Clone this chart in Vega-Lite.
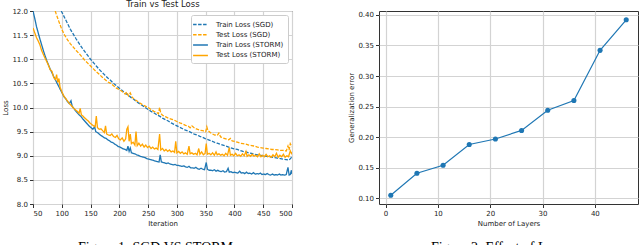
{
  "$schema": "https://vega.github.io/schema/vega-lite/v6.json",
  "background": "white",
  "padding": {"left": 1, "top": -2, "right": 0, "bottom": 0},
  "spacing": 54,
  "resolve": {"scale": {"color": "independent", "strokeDash": "independent"}, "legend": {"color": "independent", "strokeDash": "independent"}},
  "config": {
    "font": "DejaVu Sans",
    "view": {"stroke": "#333333", "strokeWidth": 1},
    "axis": {
      "labelFont": "DejaVu Sans", "labelFontSize": 7, "labelColor": "#222222",
      "titleFont": "DejaVu Sans", "titleFontSize": 7, "titleFontWeight": "normal", "titleColor": "#222222",
      "gridColor": "#d3d3d3", "gridWidth": 1.2, "tickColor": "#333333", "tickSize": 3.5,
      "domain": false, "labelPadding": 2, "titlePadding": 3
    },
    "legend": {
      "orient": "top-right", "offset": 4, "title": null,
      "fillColor": "white", "strokeColor": "#cccccc", "cornerRadius": 2, "padding": 4,
      "symbolType": "M-1.65,0H1.65", "symbolSize": 81, "symbolStrokeWidth": 1.5, "labelOffset": 10,
      "labelFont": "DejaVu Sans", "labelFontSize": 7, "labelColor": "#222222", "rowPadding": 1.3
    }
  },
  "hconcat": [
    {
      "title": {"text": "Figure 1: SGD VS STORM", "orient": "bottom", "font": "Liberation Serif", "fontSize": 14, "fontWeight": "normal", "color": "#000000", "offset": 14, "frame": "group", "anchor": "middle", "dx": -7},
      "width": 259,
      "height": 193,
      "data": {"values": [
            {"series": "Train Loss (SGD)", "iter": 96, "loss": 12.10}, {"series": "Train Loss (SGD)", "iter": 100, "loss": 11.98}, {"series": "Train Loss (SGD)", "iter": 105, "loss": 11.86}, {"series": "Train Loss (SGD)", "iter": 110, "loss": 11.74}, {"series": "Train Loss (SGD)", "iter": 115, "loss": 11.62}, {"series": "Train Loss (SGD)", "iter": 120, "loss": 11.52}, {"series": "Train Loss (SGD)", "iter": 125, "loss": 11.42}, {"series": "Train Loss (SGD)", "iter": 130, "loss": 11.33}, {"series": "Train Loss (SGD)", "iter": 135, "loss": 11.24}, {"series": "Train Loss (SGD)", "iter": 140, "loss": 11.16}, {"series": "Train Loss (SGD)", "iter": 145, "loss": 11.08}, {"series": "Train Loss (SGD)", "iter": 150, "loss": 11.00}, {"series": "Train Loss (SGD)", "iter": 155, "loss": 10.93}, {"series": "Train Loss (SGD)", "iter": 160, "loss": 10.86}, {"series": "Train Loss (SGD)", "iter": 165, "loss": 10.79}, {"series": "Train Loss (SGD)", "iter": 170, "loss": 10.73}, {"series": "Train Loss (SGD)", "iter": 175, "loss": 10.67}, {"series": "Train Loss (SGD)", "iter": 180, "loss": 10.61}, {"series": "Train Loss (SGD)", "iter": 185, "loss": 10.56}, {"series": "Train Loss (SGD)", "iter": 190, "loss": 10.50}, {"series": "Train Loss (SGD)", "iter": 195, "loss": 10.45}, {"series": "Train Loss (SGD)", "iter": 200, "loss": 10.40}, {"series": "Train Loss (SGD)", "iter": 205, "loss": 10.35}, {"series": "Train Loss (SGD)", "iter": 210, "loss": 10.30}, {"series": "Train Loss (SGD)", "iter": 215, "loss": 10.26}, {"series": "Train Loss (SGD)", "iter": 220, "loss": 10.21}, {"series": "Train Loss (SGD)", "iter": 225, "loss": 10.17}, {"series": "Train Loss (SGD)", "iter": 230, "loss": 10.12}, {"series": "Train Loss (SGD)", "iter": 235, "loss": 10.08}, {"series": "Train Loss (SGD)", "iter": 240, "loss": 10.04}, {"series": "Train Loss (SGD)", "iter": 245, "loss": 10.00}, {"series": "Train Loss (SGD)", "iter": 250, "loss": 9.96}, {"series": "Train Loss (SGD)", "iter": 255, "loss": 9.92}, {"series": "Train Loss (SGD)", "iter": 260, "loss": 9.89}, {"series": "Train Loss (SGD)", "iter": 265, "loss": 9.85}, {"series": "Train Loss (SGD)", "iter": 270, "loss": 9.82}, {"series": "Train Loss (SGD)", "iter": 275, "loss": 9.78}, {"series": "Train Loss (SGD)", "iter": 280, "loss": 9.75}, {"series": "Train Loss (SGD)", "iter": 285, "loss": 9.72}, {"series": "Train Loss (SGD)", "iter": 290, "loss": 9.68}, {"series": "Train Loss (SGD)", "iter": 295, "loss": 9.65}, {"series": "Train Loss (SGD)", "iter": 300, "loss": 9.62}, {"series": "Train Loss (SGD)", "iter": 305, "loss": 9.59}, {"series": "Train Loss (SGD)", "iter": 310, "loss": 9.56}, {"series": "Train Loss (SGD)", "iter": 315, "loss": 9.53}, {"series": "Train Loss (SGD)", "iter": 320, "loss": 9.51}, {"series": "Train Loss (SGD)", "iter": 325, "loss": 9.48}, {"series": "Train Loss (SGD)", "iter": 330, "loss": 9.45}, {"series": "Train Loss (SGD)", "iter": 335, "loss": 9.43}, {"series": "Train Loss (SGD)", "iter": 340, "loss": 9.40}, {"series": "Train Loss (SGD)", "iter": 345, "loss": 9.38}, {"series": "Train Loss (SGD)", "iter": 350, "loss": 9.35}, {"series": "Train Loss (SGD)", "iter": 355, "loss": 9.33}, {"series": "Train Loss (SGD)", "iter": 360, "loss": 9.31}, {"series": "Train Loss (SGD)", "iter": 365, "loss": 9.28}, {"series": "Train Loss (SGD)", "iter": 370, "loss": 9.26}, {"series": "Train Loss (SGD)", "iter": 375, "loss": 9.24}, {"series": "Train Loss (SGD)", "iter": 380, "loss": 9.22}, {"series": "Train Loss (SGD)", "iter": 385, "loss": 9.20}, {"series": "Train Loss (SGD)", "iter": 390, "loss": 9.18}, {"series": "Train Loss (SGD)", "iter": 395, "loss": 9.16}, {"series": "Train Loss (SGD)", "iter": 400, "loss": 9.14}, {"series": "Train Loss (SGD)", "iter": 405, "loss": 9.13}, {"series": "Train Loss (SGD)", "iter": 410, "loss": 9.11}, {"series": "Train Loss (SGD)", "iter": 415, "loss": 9.09}, {"series": "Train Loss (SGD)", "iter": 420, "loss": 9.08}, {"series": "Train Loss (SGD)", "iter": 425, "loss": 9.06}, {"series": "Train Loss (SGD)", "iter": 430, "loss": 9.05}, {"series": "Train Loss (SGD)", "iter": 435, "loss": 9.03}, {"series": "Train Loss (SGD)", "iter": 440, "loss": 9.02}, {"series": "Train Loss (SGD)", "iter": 445, "loss": 9.01}, {"series": "Train Loss (SGD)", "iter": 450, "loss": 9.00}, {"series": "Train Loss (SGD)", "iter": 455, "loss": 8.99}, {"series": "Train Loss (SGD)", "iter": 460, "loss": 8.98}, {"series": "Train Loss (SGD)", "iter": 465, "loss": 8.97}, {"series": "Train Loss (SGD)", "iter": 470, "loss": 8.96}, {"series": "Train Loss (SGD)", "iter": 475, "loss": 8.95}, {"series": "Train Loss (SGD)", "iter": 480, "loss": 8.94}, {"series": "Train Loss (SGD)", "iter": 485, "loss": 8.93}, {"series": "Train Loss (SGD)", "iter": 490, "loss": 8.92}, {"series": "Train Loss (SGD)", "iter": 495, "loss": 8.91}, {"series": "Train Loss (SGD)", "iter": 498, "loss": 8.95}, {"series": "Train Loss (SGD)", "iter": 500, "loss": 8.98},

            {"series": "Test Loss (SGD)", "iter": 86, "loss": 12.10}, {"series": "Test Loss (SGD)", "iter": 90, "loss": 11.95}, {"series": "Test Loss (SGD)", "iter": 95, "loss": 11.78}, {"series": "Test Loss (SGD)", "iter": 100, "loss": 11.62}, {"series": "Test Loss (SGD)", "iter": 105, "loss": 11.50}, {"series": "Test Loss (SGD)", "iter": 110, "loss": 11.40}, {"series": "Test Loss (SGD)", "iter": 115, "loss": 11.32}, {"series": "Test Loss (SGD)", "iter": 120, "loss": 11.25}, {"series": "Test Loss (SGD)", "iter": 125, "loss": 11.18}, {"series": "Test Loss (SGD)", "iter": 130, "loss": 11.12}, {"series": "Test Loss (SGD)", "iter": 135, "loss": 11.05}, {"series": "Test Loss (SGD)", "iter": 140, "loss": 10.98}, {"series": "Test Loss (SGD)", "iter": 145, "loss": 10.92}, {"series": "Test Loss (SGD)", "iter": 150, "loss": 10.86}, {"series": "Test Loss (SGD)", "iter": 155, "loss": 10.80}, {"series": "Test Loss (SGD)", "iter": 160, "loss": 10.74}, {"series": "Test Loss (SGD)", "iter": 165, "loss": 10.69}, {"series": "Test Loss (SGD)", "iter": 170, "loss": 10.63}, {"series": "Test Loss (SGD)", "iter": 175, "loss": 10.58}, {"series": "Test Loss (SGD)", "iter": 180, "loss": 10.53}, {"series": "Test Loss (SGD)", "iter": 185, "loss": 10.50}, {"series": "Test Loss (SGD)", "iter": 190, "loss": 10.45}, {"series": "Test Loss (SGD)", "iter": 195, "loss": 10.40}, {"series": "Test Loss (SGD)", "iter": 200, "loss": 10.37}, {"series": "Test Loss (SGD)", "iter": 205, "loss": 10.33}, {"series": "Test Loss (SGD)", "iter": 210, "loss": 10.28}, {"series": "Test Loss (SGD)", "iter": 213, "loss": 10.32}, {"series": "Test Loss (SGD)", "iter": 216, "loss": 10.24}, {"series": "Test Loss (SGD)", "iter": 219, "loss": 10.30}, {"series": "Test Loss (SGD)", "iter": 222, "loss": 10.22}, {"series": "Test Loss (SGD)", "iter": 225, "loss": 10.18}, {"series": "Test Loss (SGD)", "iter": 230, "loss": 10.14}, {"series": "Test Loss (SGD)", "iter": 235, "loss": 10.10}, {"series": "Test Loss (SGD)", "iter": 240, "loss": 10.06}, {"series": "Test Loss (SGD)", "iter": 245, "loss": 10.03}, {"series": "Test Loss (SGD)", "iter": 250, "loss": 10.00}, {"series": "Test Loss (SGD)", "iter": 255, "loss": 9.96}, {"series": "Test Loss (SGD)", "iter": 260, "loss": 9.92}, {"series": "Test Loss (SGD)", "iter": 265, "loss": 9.90}, {"series": "Test Loss (SGD)", "iter": 268, "loss": 9.87}, {"series": "Test Loss (SGD)", "iter": 270, "loss": 10.00}, {"series": "Test Loss (SGD)", "iter": 272, "loss": 9.88}, {"series": "Test Loss (SGD)", "iter": 275, "loss": 9.84}, {"series": "Test Loss (SGD)", "iter": 280, "loss": 9.81}, {"series": "Test Loss (SGD)", "iter": 285, "loss": 9.78}, {"series": "Test Loss (SGD)", "iter": 290, "loss": 9.76}, {"series": "Test Loss (SGD)", "iter": 295, "loss": 9.74}, {"series": "Test Loss (SGD)", "iter": 300, "loss": 9.71}, {"series": "Test Loss (SGD)", "iter": 305, "loss": 9.68}, {"series": "Test Loss (SGD)", "iter": 310, "loss": 9.66}, {"series": "Test Loss (SGD)", "iter": 315, "loss": 9.63}, {"series": "Test Loss (SGD)", "iter": 320, "loss": 9.61}, {"series": "Test Loss (SGD)", "iter": 323, "loss": 9.58}, {"series": "Test Loss (SGD)", "iter": 326, "loss": 9.62}, {"series": "Test Loss (SGD)", "iter": 330, "loss": 9.58}, {"series": "Test Loss (SGD)", "iter": 335, "loss": 9.55}, {"series": "Test Loss (SGD)", "iter": 340, "loss": 9.53}, {"series": "Test Loss (SGD)", "iter": 345, "loss": 9.52}, {"series": "Test Loss (SGD)", "iter": 350, "loss": 9.50}, {"series": "Test Loss (SGD)", "iter": 352, "loss": 9.60}, {"series": "Test Loss (SGD)", "iter": 354, "loss": 9.52}, {"series": "Test Loss (SGD)", "iter": 358, "loss": 9.48}, {"series": "Test Loss (SGD)", "iter": 362, "loss": 9.45}, {"series": "Test Loss (SGD)", "iter": 366, "loss": 9.43}, {"series": "Test Loss (SGD)", "iter": 370, "loss": 9.42}, {"series": "Test Loss (SGD)", "iter": 373, "loss": 9.47}, {"series": "Test Loss (SGD)", "iter": 376, "loss": 9.39}, {"series": "Test Loss (SGD)", "iter": 380, "loss": 9.37}, {"series": "Test Loss (SGD)", "iter": 385, "loss": 9.35}, {"series": "Test Loss (SGD)", "iter": 390, "loss": 9.33}, {"series": "Test Loss (SGD)", "iter": 393, "loss": 9.36}, {"series": "Test Loss (SGD)", "iter": 396, "loss": 9.31}, {"series": "Test Loss (SGD)", "iter": 400, "loss": 9.30}, {"series": "Test Loss (SGD)", "iter": 405, "loss": 9.28}, {"series": "Test Loss (SGD)", "iter": 410, "loss": 9.26}, {"series": "Test Loss (SGD)", "iter": 415, "loss": 9.25}, {"series": "Test Loss (SGD)", "iter": 420, "loss": 9.24}, {"series": "Test Loss (SGD)", "iter": 425, "loss": 9.22}, {"series": "Test Loss (SGD)", "iter": 430, "loss": 9.21}, {"series": "Test Loss (SGD)", "iter": 435, "loss": 9.20}, {"series": "Test Loss (SGD)", "iter": 440, "loss": 9.18}, {"series": "Test Loss (SGD)", "iter": 445, "loss": 9.17}, {"series": "Test Loss (SGD)", "iter": 450, "loss": 9.16}, {"series": "Test Loss (SGD)", "iter": 455, "loss": 9.15}, {"series": "Test Loss (SGD)", "iter": 460, "loss": 9.14}, {"series": "Test Loss (SGD)", "iter": 465, "loss": 9.13}, {"series": "Test Loss (SGD)", "iter": 470, "loss": 9.13}, {"series": "Test Loss (SGD)", "iter": 475, "loss": 9.12}, {"series": "Test Loss (SGD)", "iter": 480, "loss": 9.11}, {"series": "Test Loss (SGD)", "iter": 485, "loss": 9.11}, {"series": "Test Loss (SGD)", "iter": 490, "loss": 9.10}, {"series": "Test Loss (SGD)", "iter": 493, "loss": 9.20}, {"series": "Test Loss (SGD)", "iter": 495, "loss": 9.12}, {"series": "Test Loss (SGD)", "iter": 497, "loss": 9.25}, {"series": "Test Loss (SGD)", "iter": 500, "loss": 9.18},

            {"series": "Train Loss (STORM)", "iter": 50, "loss": 12.00}, {"series": "Train Loss (STORM)", "iter": 53, "loss": 11.85}, {"series": "Train Loss (STORM)", "iter": 56, "loss": 11.68}, {"series": "Train Loss (STORM)", "iter": 59, "loss": 11.55}, {"series": "Train Loss (STORM)", "iter": 62, "loss": 11.42}, {"series": "Train Loss (STORM)", "iter": 65, "loss": 11.30}, {"series": "Train Loss (STORM)", "iter": 68, "loss": 11.18}, {"series": "Train Loss (STORM)", "iter": 71, "loss": 11.07}, {"series": "Train Loss (STORM)", "iter": 74, "loss": 10.97}, {"series": "Train Loss (STORM)", "iter": 77, "loss": 10.88}, {"series": "Train Loss (STORM)", "iter": 80, "loss": 10.79}, {"series": "Train Loss (STORM)", "iter": 83, "loss": 10.72}, {"series": "Train Loss (STORM)", "iter": 86, "loss": 10.64}, {"series": "Train Loss (STORM)", "iter": 89, "loss": 10.57}, {"series": "Train Loss (STORM)", "iter": 92, "loss": 10.50}, {"series": "Train Loss (STORM)", "iter": 95, "loss": 10.43}, {"series": "Train Loss (STORM)", "iter": 98, "loss": 10.36}, {"series": "Train Loss (STORM)", "iter": 101, "loss": 10.29}, {"series": "Train Loss (STORM)", "iter": 104, "loss": 10.22}, {"series": "Train Loss (STORM)", "iter": 107, "loss": 10.18}, {"series": "Train Loss (STORM)", "iter": 110, "loss": 10.12}, {"series": "Train Loss (STORM)", "iter": 113, "loss": 10.08}, {"series": "Train Loss (STORM)", "iter": 116, "loss": 10.14}, {"series": "Train Loss (STORM)", "iter": 118, "loss": 10.03}, {"series": "Train Loss (STORM)", "iter": 121, "loss": 9.98}, {"series": "Train Loss (STORM)", "iter": 124, "loss": 9.93}, {"series": "Train Loss (STORM)", "iter": 127, "loss": 9.89}, {"series": "Train Loss (STORM)", "iter": 130, "loss": 9.85}, {"series": "Train Loss (STORM)", "iter": 133, "loss": 9.82}, {"series": "Train Loss (STORM)", "iter": 136, "loss": 9.77}, {"series": "Train Loss (STORM)", "iter": 139, "loss": 9.73}, {"series": "Train Loss (STORM)", "iter": 142, "loss": 9.69}, {"series": "Train Loss (STORM)", "iter": 145, "loss": 9.65}, {"series": "Train Loss (STORM)", "iter": 148, "loss": 9.61}, {"series": "Train Loss (STORM)", "iter": 151, "loss": 9.58}, {"series": "Train Loss (STORM)", "iter": 154, "loss": 9.55}, {"series": "Train Loss (STORM)", "iter": 157, "loss": 9.60}, {"series": "Train Loss (STORM)", "iter": 159, "loss": 9.50}, {"series": "Train Loss (STORM)", "iter": 162, "loss": 9.48}, {"series": "Train Loss (STORM)", "iter": 165, "loss": 9.45}, {"series": "Train Loss (STORM)", "iter": 168, "loss": 9.42}, {"series": "Train Loss (STORM)", "iter": 171, "loss": 9.40}, {"series": "Train Loss (STORM)", "iter": 174, "loss": 9.37}, {"series": "Train Loss (STORM)", "iter": 177, "loss": 9.36}, {"series": "Train Loss (STORM)", "iter": 180, "loss": 9.33}, {"series": "Train Loss (STORM)", "iter": 183, "loss": 9.31}, {"series": "Train Loss (STORM)", "iter": 186, "loss": 9.28}, {"series": "Train Loss (STORM)", "iter": 189, "loss": 9.27}, {"series": "Train Loss (STORM)", "iter": 192, "loss": 9.24}, {"series": "Train Loss (STORM)", "iter": 195, "loss": 9.22}, {"series": "Train Loss (STORM)", "iter": 198, "loss": 9.19}, {"series": "Train Loss (STORM)", "iter": 201, "loss": 9.18}, {"series": "Train Loss (STORM)", "iter": 204, "loss": 9.16}, {"series": "Train Loss (STORM)", "iter": 207, "loss": 9.14}, {"series": "Train Loss (STORM)", "iter": 210, "loss": 9.13}, {"series": "Train Loss (STORM)", "iter": 213, "loss": 9.11}, {"series": "Train Loss (STORM)", "iter": 215, "loss": 9.20}, {"series": "Train Loss (STORM)", "iter": 217, "loss": 9.09}, {"series": "Train Loss (STORM)", "iter": 219, "loss": 9.16}, {"series": "Train Loss (STORM)", "iter": 221, "loss": 9.06}, {"series": "Train Loss (STORM)", "iter": 224, "loss": 9.05}, {"series": "Train Loss (STORM)", "iter": 227, "loss": 9.04}, {"series": "Train Loss (STORM)", "iter": 230, "loss": 9.02}, {"series": "Train Loss (STORM)", "iter": 233, "loss": 9.01}, {"series": "Train Loss (STORM)", "iter": 236, "loss": 8.99}, {"series": "Train Loss (STORM)", "iter": 239, "loss": 8.98}, {"series": "Train Loss (STORM)", "iter": 242, "loss": 8.97}, {"series": "Train Loss (STORM)", "iter": 245, "loss": 8.96}, {"series": "Train Loss (STORM)", "iter": 248, "loss": 8.94}, {"series": "Train Loss (STORM)", "iter": 251, "loss": 8.93}, {"series": "Train Loss (STORM)", "iter": 254, "loss": 8.92}, {"series": "Train Loss (STORM)", "iter": 257, "loss": 8.91}, {"series": "Train Loss (STORM)", "iter": 260, "loss": 8.90}, {"series": "Train Loss (STORM)", "iter": 263, "loss": 8.89}, {"series": "Train Loss (STORM)", "iter": 266, "loss": 8.88}, {"series": "Train Loss (STORM)", "iter": 269, "loss": 8.87}, {"series": "Train Loss (STORM)", "iter": 271, "loss": 9.02}, {"series": "Train Loss (STORM)", "iter": 273, "loss": 8.87}, {"series": "Train Loss (STORM)", "iter": 276, "loss": 8.86}, {"series": "Train Loss (STORM)", "iter": 279, "loss": 8.85}, {"series": "Train Loss (STORM)", "iter": 282, "loss": 8.84}, {"series": "Train Loss (STORM)", "iter": 285, "loss": 8.85}, {"series": "Train Loss (STORM)", "iter": 288, "loss": 8.83}, {"series": "Train Loss (STORM)", "iter": 291, "loss": 8.82}, {"series": "Train Loss (STORM)", "iter": 294, "loss": 8.81}, {"series": "Train Loss (STORM)", "iter": 297, "loss": 8.82}, {"series": "Train Loss (STORM)", "iter": 300, "loss": 8.80}, {"series": "Train Loss (STORM)", "iter": 303, "loss": 8.80}, {"series": "Train Loss (STORM)", "iter": 306, "loss": 8.79}, {"series": "Train Loss (STORM)", "iter": 309, "loss": 8.78}, {"series": "Train Loss (STORM)", "iter": 312, "loss": 8.79}, {"series": "Train Loss (STORM)", "iter": 315, "loss": 8.77}, {"series": "Train Loss (STORM)", "iter": 318, "loss": 8.76}, {"series": "Train Loss (STORM)", "iter": 321, "loss": 8.78}, {"series": "Train Loss (STORM)", "iter": 324, "loss": 8.75}, {"series": "Train Loss (STORM)", "iter": 327, "loss": 8.75}, {"series": "Train Loss (STORM)", "iter": 330, "loss": 8.74}, {"series": "Train Loss (STORM)", "iter": 333, "loss": 8.76}, {"series": "Train Loss (STORM)", "iter": 336, "loss": 8.73}, {"series": "Train Loss (STORM)", "iter": 339, "loss": 8.72}, {"series": "Train Loss (STORM)", "iter": 342, "loss": 8.74}, {"series": "Train Loss (STORM)", "iter": 345, "loss": 8.72}, {"series": "Train Loss (STORM)", "iter": 348, "loss": 8.71}, {"series": "Train Loss (STORM)", "iter": 351, "loss": 8.86}, {"series": "Train Loss (STORM)", "iter": 353, "loss": 8.72}, {"series": "Train Loss (STORM)", "iter": 356, "loss": 8.70}, {"series": "Train Loss (STORM)", "iter": 359, "loss": 8.70}, {"series": "Train Loss (STORM)", "iter": 362, "loss": 8.69}, {"series": "Train Loss (STORM)", "iter": 365, "loss": 8.71}, {"series": "Train Loss (STORM)", "iter": 368, "loss": 8.68}, {"series": "Train Loss (STORM)", "iter": 371, "loss": 8.70}, {"series": "Train Loss (STORM)", "iter": 374, "loss": 8.68}, {"series": "Train Loss (STORM)", "iter": 377, "loss": 8.67}, {"series": "Train Loss (STORM)", "iter": 380, "loss": 8.69}, {"series": "Train Loss (STORM)", "iter": 383, "loss": 8.66}, {"series": "Train Loss (STORM)", "iter": 386, "loss": 8.67}, {"series": "Train Loss (STORM)", "iter": 389, "loss": 8.74}, {"series": "Train Loss (STORM)", "iter": 391, "loss": 8.66}, {"series": "Train Loss (STORM)", "iter": 394, "loss": 8.67}, {"series": "Train Loss (STORM)", "iter": 397, "loss": 8.65}, {"series": "Train Loss (STORM)", "iter": 400, "loss": 8.66}, {"series": "Train Loss (STORM)", "iter": 403, "loss": 8.65}, {"series": "Train Loss (STORM)", "iter": 406, "loss": 8.64}, {"series": "Train Loss (STORM)", "iter": 409, "loss": 8.68}, {"series": "Train Loss (STORM)", "iter": 412, "loss": 8.64}, {"series": "Train Loss (STORM)", "iter": 415, "loss": 8.65}, {"series": "Train Loss (STORM)", "iter": 418, "loss": 8.63}, {"series": "Train Loss (STORM)", "iter": 421, "loss": 8.66}, {"series": "Train Loss (STORM)", "iter": 424, "loss": 8.63}, {"series": "Train Loss (STORM)", "iter": 427, "loss": 8.64}, {"series": "Train Loss (STORM)", "iter": 430, "loss": 8.62}, {"series": "Train Loss (STORM)", "iter": 433, "loss": 8.65}, {"series": "Train Loss (STORM)", "iter": 436, "loss": 8.62}, {"series": "Train Loss (STORM)", "iter": 439, "loss": 8.63}, {"series": "Train Loss (STORM)", "iter": 442, "loss": 8.62}, {"series": "Train Loss (STORM)", "iter": 445, "loss": 8.64}, {"series": "Train Loss (STORM)", "iter": 448, "loss": 8.61}, {"series": "Train Loss (STORM)", "iter": 451, "loss": 8.62}, {"series": "Train Loss (STORM)", "iter": 454, "loss": 8.61}, {"series": "Train Loss (STORM)", "iter": 457, "loss": 8.63}, {"series": "Train Loss (STORM)", "iter": 460, "loss": 8.61}, {"series": "Train Loss (STORM)", "iter": 463, "loss": 8.60}, {"series": "Train Loss (STORM)", "iter": 466, "loss": 8.62}, {"series": "Train Loss (STORM)", "iter": 469, "loss": 8.60}, {"series": "Train Loss (STORM)", "iter": 472, "loss": 8.61}, {"series": "Train Loss (STORM)", "iter": 475, "loss": 8.60}, {"series": "Train Loss (STORM)", "iter": 478, "loss": 8.62}, {"series": "Train Loss (STORM)", "iter": 481, "loss": 8.60}, {"series": "Train Loss (STORM)", "iter": 484, "loss": 8.61}, {"series": "Train Loss (STORM)", "iter": 487, "loss": 8.60}, {"series": "Train Loss (STORM)", "iter": 490, "loss": 8.61}, {"series": "Train Loss (STORM)", "iter": 493, "loss": 8.76}, {"series": "Train Loss (STORM)", "iter": 495, "loss": 8.60}, {"series": "Train Loss (STORM)", "iter": 497, "loss": 8.61}, {"series": "Train Loss (STORM)", "iter": 499, "loss": 8.70}, {"series": "Train Loss (STORM)", "iter": 500, "loss": 8.62},

            {"series": "Test Loss (STORM)", "iter": 50, "loss": 11.65}, {"series": "Test Loss (STORM)", "iter": 53, "loss": 11.55}, {"series": "Test Loss (STORM)", "iter": 56, "loss": 11.45}, {"series": "Test Loss (STORM)", "iter": 59, "loss": 11.38}, {"series": "Test Loss (STORM)", "iter": 62, "loss": 11.30}, {"series": "Test Loss (STORM)", "iter": 65, "loss": 11.18}, {"series": "Test Loss (STORM)", "iter": 68, "loss": 11.10}, {"series": "Test Loss (STORM)", "iter": 71, "loss": 11.02}, {"series": "Test Loss (STORM)", "iter": 74, "loss": 10.95}, {"series": "Test Loss (STORM)", "iter": 77, "loss": 10.87}, {"series": "Test Loss (STORM)", "iter": 80, "loss": 10.78}, {"series": "Test Loss (STORM)", "iter": 83, "loss": 10.75}, {"series": "Test Loss (STORM)", "iter": 86, "loss": 10.62}, {"series": "Test Loss (STORM)", "iter": 89, "loss": 10.58}, {"series": "Test Loss (STORM)", "iter": 91, "loss": 10.68}, {"series": "Test Loss (STORM)", "iter": 93, "loss": 10.52}, {"series": "Test Loss (STORM)", "iter": 95, "loss": 10.60}, {"series": "Test Loss (STORM)", "iter": 97, "loss": 10.42}, {"series": "Test Loss (STORM)", "iter": 100, "loss": 10.33}, {"series": "Test Loss (STORM)", "iter": 103, "loss": 10.25}, {"series": "Test Loss (STORM)", "iter": 106, "loss": 10.20}, {"series": "Test Loss (STORM)", "iter": 109, "loss": 10.15}, {"series": "Test Loss (STORM)", "iter": 112, "loss": 10.10}, {"series": "Test Loss (STORM)", "iter": 115, "loss": 10.06}, {"series": "Test Loss (STORM)", "iter": 118, "loss": 10.02}, {"series": "Test Loss (STORM)", "iter": 121, "loss": 9.98}, {"series": "Test Loss (STORM)", "iter": 124, "loss": 9.95}, {"series": "Test Loss (STORM)", "iter": 127, "loss": 9.92}, {"series": "Test Loss (STORM)", "iter": 130, "loss": 9.88}, {"series": "Test Loss (STORM)", "iter": 132, "loss": 9.98}, {"series": "Test Loss (STORM)", "iter": 134, "loss": 9.85}, {"series": "Test Loss (STORM)", "iter": 137, "loss": 9.82}, {"series": "Test Loss (STORM)", "iter": 140, "loss": 9.78}, {"series": "Test Loss (STORM)", "iter": 143, "loss": 9.75}, {"series": "Test Loss (STORM)", "iter": 146, "loss": 9.72}, {"series": "Test Loss (STORM)", "iter": 149, "loss": 9.68}, {"series": "Test Loss (STORM)", "iter": 152, "loss": 9.65}, {"series": "Test Loss (STORM)", "iter": 155, "loss": 9.62}, {"series": "Test Loss (STORM)", "iter": 158, "loss": 9.60}, {"series": "Test Loss (STORM)", "iter": 160, "loss": 9.82}, {"series": "Test Loss (STORM)", "iter": 162, "loss": 9.58}, {"series": "Test Loss (STORM)", "iter": 165, "loss": 9.55}, {"series": "Test Loss (STORM)", "iter": 168, "loss": 9.56}, {"series": "Test Loss (STORM)", "iter": 171, "loss": 9.52}, {"series": "Test Loss (STORM)", "iter": 174, "loss": 9.48}, {"series": "Test Loss (STORM)", "iter": 176, "loss": 9.62}, {"series": "Test Loss (STORM)", "iter": 178, "loss": 9.45}, {"series": "Test Loss (STORM)", "iter": 181, "loss": 9.43}, {"series": "Test Loss (STORM)", "iter": 184, "loss": 9.42}, {"series": "Test Loss (STORM)", "iter": 187, "loss": 9.45}, {"series": "Test Loss (STORM)", "iter": 190, "loss": 9.40}, {"series": "Test Loss (STORM)", "iter": 193, "loss": 9.38}, {"series": "Test Loss (STORM)", "iter": 196, "loss": 9.42}, {"series": "Test Loss (STORM)", "iter": 199, "loss": 9.35}, {"series": "Test Loss (STORM)", "iter": 202, "loss": 9.33}, {"series": "Test Loss (STORM)", "iter": 205, "loss": 9.37}, {"series": "Test Loss (STORM)", "iter": 208, "loss": 9.30}, {"series": "Test Loss (STORM)", "iter": 211, "loss": 9.35}, {"series": "Test Loss (STORM)", "iter": 213, "loss": 9.55}, {"series": "Test Loss (STORM)", "iter": 215, "loss": 9.60}, {"series": "Test Loss (STORM)", "iter": 217, "loss": 9.30}, {"series": "Test Loss (STORM)", "iter": 219, "loss": 9.45}, {"series": "Test Loss (STORM)", "iter": 221, "loss": 9.25}, {"series": "Test Loss (STORM)", "iter": 224, "loss": 9.28}, {"series": "Test Loss (STORM)", "iter": 227, "loss": 9.22}, {"series": "Test Loss (STORM)", "iter": 229, "loss": 9.50}, {"series": "Test Loss (STORM)", "iter": 231, "loss": 9.21}, {"series": "Test Loss (STORM)", "iter": 234, "loss": 9.26}, {"series": "Test Loss (STORM)", "iter": 237, "loss": 9.20}, {"series": "Test Loss (STORM)", "iter": 240, "loss": 9.24}, {"series": "Test Loss (STORM)", "iter": 243, "loss": 9.18}, {"series": "Test Loss (STORM)", "iter": 246, "loss": 9.22}, {"series": "Test Loss (STORM)", "iter": 249, "loss": 9.17}, {"series": "Test Loss (STORM)", "iter": 252, "loss": 9.20}, {"series": "Test Loss (STORM)", "iter": 255, "loss": 9.15}, {"series": "Test Loss (STORM)", "iter": 258, "loss": 9.18}, {"series": "Test Loss (STORM)", "iter": 261, "loss": 9.14}, {"series": "Test Loss (STORM)", "iter": 264, "loss": 9.16}, {"series": "Test Loss (STORM)", "iter": 267, "loss": 9.13}, {"series": "Test Loss (STORM)", "iter": 270, "loss": 9.45}, {"series": "Test Loss (STORM)", "iter": 272, "loss": 9.12}, {"series": "Test Loss (STORM)", "iter": 275, "loss": 9.15}, {"series": "Test Loss (STORM)", "iter": 278, "loss": 9.10}, {"series": "Test Loss (STORM)", "iter": 281, "loss": 9.13}, {"series": "Test Loss (STORM)", "iter": 284, "loss": 9.09}, {"series": "Test Loss (STORM)", "iter": 287, "loss": 9.12}, {"series": "Test Loss (STORM)", "iter": 290, "loss": 9.08}, {"series": "Test Loss (STORM)", "iter": 293, "loss": 9.10}, {"series": "Test Loss (STORM)", "iter": 296, "loss": 9.07}, {"series": "Test Loss (STORM)", "iter": 298, "loss": 9.30}, {"series": "Test Loss (STORM)", "iter": 300, "loss": 9.06}, {"series": "Test Loss (STORM)", "iter": 303, "loss": 9.09}, {"series": "Test Loss (STORM)", "iter": 306, "loss": 9.05}, {"series": "Test Loss (STORM)", "iter": 309, "loss": 9.08}, {"series": "Test Loss (STORM)", "iter": 312, "loss": 9.04}, {"series": "Test Loss (STORM)", "iter": 315, "loss": 9.06}, {"series": "Test Loss (STORM)", "iter": 318, "loss": 9.03}, {"series": "Test Loss (STORM)", "iter": 321, "loss": 9.20}, {"series": "Test Loss (STORM)", "iter": 323, "loss": 9.04}, {"series": "Test Loss (STORM)", "iter": 326, "loss": 9.06}, {"series": "Test Loss (STORM)", "iter": 329, "loss": 9.03}, {"series": "Test Loss (STORM)", "iter": 332, "loss": 9.05}, {"series": "Test Loss (STORM)", "iter": 335, "loss": 9.02}, {"series": "Test Loss (STORM)", "iter": 338, "loss": 9.15}, {"series": "Test Loss (STORM)", "iter": 340, "loss": 9.03}, {"series": "Test Loss (STORM)", "iter": 343, "loss": 9.08}, {"series": "Test Loss (STORM)", "iter": 346, "loss": 9.02}, {"series": "Test Loss (STORM)", "iter": 349, "loss": 9.05}, {"series": "Test Loss (STORM)", "iter": 351, "loss": 9.25}, {"series": "Test Loss (STORM)", "iter": 353, "loss": 9.03}, {"series": "Test Loss (STORM)", "iter": 356, "loss": 9.05}, {"series": "Test Loss (STORM)", "iter": 359, "loss": 9.02}, {"series": "Test Loss (STORM)", "iter": 362, "loss": 9.06}, {"series": "Test Loss (STORM)", "iter": 365, "loss": 9.01}, {"series": "Test Loss (STORM)", "iter": 368, "loss": 9.08}, {"series": "Test Loss (STORM)", "iter": 370, "loss": 9.02}, {"series": "Test Loss (STORM)", "iter": 373, "loss": 9.04}, {"series": "Test Loss (STORM)", "iter": 376, "loss": 9.01}, {"series": "Test Loss (STORM)", "iter": 379, "loss": 9.03}, {"series": "Test Loss (STORM)", "iter": 382, "loss": 9.00}, {"series": "Test Loss (STORM)", "iter": 385, "loss": 9.05}, {"series": "Test Loss (STORM)", "iter": 388, "loss": 9.01}, {"series": "Test Loss (STORM)", "iter": 391, "loss": 9.17}, {"series": "Test Loss (STORM)", "iter": 393, "loss": 9.01}, {"series": "Test Loss (STORM)", "iter": 396, "loss": 9.03}, {"series": "Test Loss (STORM)", "iter": 399, "loss": 9.00}, {"series": "Test Loss (STORM)", "iter": 402, "loss": 9.05}, {"series": "Test Loss (STORM)", "iter": 405, "loss": 9.00}, {"series": "Test Loss (STORM)", "iter": 408, "loss": 9.02}, {"series": "Test Loss (STORM)", "iter": 411, "loss": 8.99}, {"series": "Test Loss (STORM)", "iter": 414, "loss": 9.04}, {"series": "Test Loss (STORM)", "iter": 417, "loss": 9.00}, {"series": "Test Loss (STORM)", "iter": 420, "loss": 9.09}, {"series": "Test Loss (STORM)", "iter": 422, "loss": 8.99}, {"series": "Test Loss (STORM)", "iter": 425, "loss": 9.02}, {"series": "Test Loss (STORM)", "iter": 428, "loss": 8.99}, {"series": "Test Loss (STORM)", "iter": 431, "loss": 9.03}, {"series": "Test Loss (STORM)", "iter": 434, "loss": 8.99}, {"series": "Test Loss (STORM)", "iter": 437, "loss": 9.01}, {"series": "Test Loss (STORM)", "iter": 440, "loss": 8.98}, {"series": "Test Loss (STORM)", "iter": 443, "loss": 9.04}, {"series": "Test Loss (STORM)", "iter": 446, "loss": 8.98}, {"series": "Test Loss (STORM)", "iter": 449, "loss": 9.01}, {"series": "Test Loss (STORM)", "iter": 452, "loss": 8.98}, {"series": "Test Loss (STORM)", "iter": 455, "loss": 9.03}, {"series": "Test Loss (STORM)", "iter": 458, "loss": 8.98}, {"series": "Test Loss (STORM)", "iter": 461, "loss": 9.00}, {"series": "Test Loss (STORM)", "iter": 464, "loss": 8.97}, {"series": "Test Loss (STORM)", "iter": 467, "loss": 9.02}, {"series": "Test Loss (STORM)", "iter": 470, "loss": 8.98}, {"series": "Test Loss (STORM)", "iter": 473, "loss": 9.05}, {"series": "Test Loss (STORM)", "iter": 476, "loss": 8.97}, {"series": "Test Loss (STORM)", "iter": 479, "loss": 9.01}, {"series": "Test Loss (STORM)", "iter": 482, "loss": 8.98}, {"series": "Test Loss (STORM)", "iter": 485, "loss": 9.03}, {"series": "Test Loss (STORM)", "iter": 488, "loss": 8.97}, {"series": "Test Loss (STORM)", "iter": 491, "loss": 9.00}, {"series": "Test Loss (STORM)", "iter": 494, "loss": 8.98}, {"series": "Test Loss (STORM)", "iter": 497, "loss": 9.10}, {"series": "Test Loss (STORM)", "iter": 499, "loss": 9.05}, {"series": "Test Loss (STORM)", "iter": 500, "loss": 9.08}
      ]},
      "encoding": {
        "y": {"field": "loss", "type": "quantitative", "scale": {"domain": [8, 12], "nice": false, "zero": false},
              "axis": {"values": [8, 8.5, 9, 9.5, 10, 10.5, 11, 11.5, 12], "format": ".1f", "title": "Loss"}},
        "color": {"field": "series", "type": "nominal",
                  "scale": {"domain": ["Train Loss (SGD)", "Test Loss (SGD)", "Train Loss (STORM)", "Test Loss (STORM)"], "range": ["#1f77b4", "#ffa500", "#1f77b4", "#ffa500"]}},
        "strokeDash": {"field": "series", "type": "nominal",
                  "scale": {"domain": ["Train Loss (SGD)", "Test Loss (SGD)", "Train Loss (STORM)", "Test Loss (STORM)"], "range": [[3.5, 1.5], [3.5, 1.5], [1, 0], [1, 0]]}}
      },
      "layer": [
        {
          "transform": [{"filter": "indexof(datum.series, 'SGD') >= 0"}],
          "mark": {"type": "line", "clip": true, "strokeWidth": 1.3},
          "encoding": {
            "x": {"field": "iter", "type": "quantitative", "scale": {"domain": [50, 500], "nice": false, "zero": false},
                  "axis": {"values": [50, 100, 150, 200, 250, 300, 350, 400, 450, 500], "title": "Iteration"}}
          }
        },
        {
          "transform": [{"filter": "indexof(datum.series, 'STORM') >= 0"}],
          "mark": {"type": "line", "clip": true, "strokeWidth": 1.3},
          "encoding": {
            "x": {"field": "iter", "type": "quantitative", "scale": {"domain": [50, 500], "nice": false, "zero": false},
                  "axis": {"orient": "top", "title": "Train vs Test Loss", "titleFontSize": 8.5, "titlePadding": 3, "labels": false, "ticks": false, "grid": false, "domain": false}}
          }
        }
      ],
      "resolve": {"axis": {"x": "independent"}}
    },
    {
      "title": {"text": "Figure 2: Effect of Layers", "orient": "bottom", "font": "Liberation Serif", "fontSize": 14, "fontWeight": "normal", "color": "#000000", "offset": 14, "frame": "group", "anchor": "middle", "dx": -5},
      "width": 259,
      "height": 193,
      "data": {"values": [
        {"layers": 1, "err": 0.105}, {"layers": 6, "err": 0.141}, {"layers": 11, "err": 0.154}, {"layers": 16, "err": 0.188}, {"layers": 21, "err": 0.197},
        {"layers": 26, "err": 0.211}, {"layers": 31, "err": 0.244}, {"layers": 36, "err": 0.260}, {"layers": 41, "err": 0.342}, {"layers": 46, "err": 0.392}
      ]},
      "encoding": {
        "x": {"field": "layers", "type": "quantitative", "scale": {"domain": [-1.25, 48.25], "nice": false, "zero": false},
              "axis": {"values": [0, 10, 20, 30, 40], "title": "Number of Layers"}},
        "y": {"field": "err", "type": "quantitative", "scale": {"domain": [0.09065, 0.40635], "nice": false, "zero": false},
              "axis": {"values": [0.10, 0.15, 0.20, 0.25, 0.30, 0.35, 0.40], "format": ".2f", "title": "Generalization error"}}
      },
      "layer": [
        {"mark": {"type": "line", "color": "#1f77b4", "strokeWidth": 1.2}},
        {"mark": {"type": "point", "filled": true, "color": "#1f77b4", "size": 26, "opacity": 1}}
      ]
    }
  ]
}
